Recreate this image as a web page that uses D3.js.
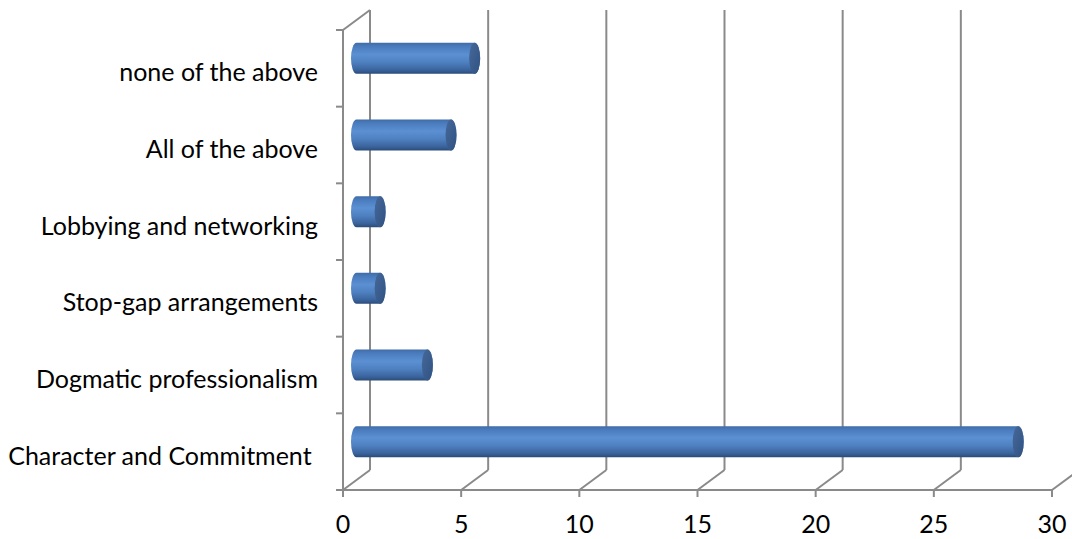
<!DOCTYPE html>
<html>
<head>
<meta charset="utf-8">
<script src="https://cdn.jsdelivr.net/npm/d3@7"></script>
<style>
  html, body { margin: 0; padding: 0; background: #fff; }
  svg { display: block; }
  text { font-family: Lato, "Open Sans", sans-serif; fill: #000; white-space: pre; }
</style>
</head>
<body>
<svg id="chart" width="1072" height="539"></svg>
<script>
// Categories, bottom to top
const categories = [
  "Character and Commitment ",
  "Dogmatic professionalism",
  "Stop-gap arrangements",
  "Lobbying and networking",
  "All of the above",
  "none of the above"
];
const values = [28, 3, 1, 1, 4, 5];
const tickValues = [0, 5, 10, 15, 20, 25, 30];

const svg = d3.select("#chart");

// Front plane scales plus the 3D depth offset of the back wall
const x = d3.scaleLinear().domain([0, 30]).range([343, 1052]);
const y = d3.scaleBand().domain(categories.slice().reverse()).range([30, 490]).padding(0);
const depth = { dx: 27, dy: -20 };
const gridColor = "#8a8a8a";

const defs = svg.append("defs");
const body = defs.append("linearGradient").attr("id", "cylBody")
  .attr("x1", 0).attr("y1", 0).attr("x2", 0).attr("y2", 1);
[["0%", "#3f6ca8"], ["12%", "#4a7cbd"], ["38%", "#5b90d3"], ["62%", "#4f81c1"], ["88%", "#3a639c"], ["100%", "#2b4b78"]]
  .forEach(([o, c]) => body.append("stop").attr("offset", o).attr("stop-color", c));
const cap = defs.append("linearGradient").attr("id", "cylCap")
  .attr("x1", 0).attr("y1", 0).attr("x2", 1).attr("y2", 1);
[["0%", "#46699a"], ["100%", "#2f5282"]]
  .forEach(([o, c]) => cap.append("stop").attr("offset", o).attr("stop-color", c));

const yTop = y.range()[0], yBot = y.range()[1];

// Back wall gridlines
svg.append("g").selectAll("line").data(tickValues).join("line")
  .attr("x1", d => x(d) + depth.dx).attr("x2", d => x(d) + depth.dx)
  .attr("y1", yTop + depth.dy).attr("y2", yBot + depth.dy)
  .attr("stroke", gridColor).attr("stroke-width", 2);

// Floor depth lines from each front tick to the back wall
svg.append("g").selectAll("line").data(tickValues).join("line")
  .attr("x1", d => x(d)).attr("y1", yBot)
  .attr("x2", d => x(d) + depth.dx).attr("y2", yBot + depth.dy)
  .attr("stroke", gridColor).attr("stroke-width", 2);

// Left wall: front edge and its top depth line
svg.append("line").attr("x1", x(0)).attr("x2", x(0)).attr("y1", yTop).attr("y2", yBot)
  .attr("stroke", gridColor).attr("stroke-width", 2);
svg.append("line").attr("x1", x(0)).attr("y1", yTop).attr("x2", x(0) + depth.dx).attr("y2", yTop + depth.dy)
  .attr("stroke", gridColor).attr("stroke-width", 2);

// Floor front edge
svg.append("line").attr("x1", x(0)).attr("x2", x(30)).attr("y1", yBot).attr("y2", yBot)
  .attr("stroke", gridColor).attr("stroke-width", 2);

// Category tick marks on the left wall
const bounds = categories.map(c => y(c)).concat([yBot]);
svg.append("g").selectAll("line").data(bounds).join("line")
  .attr("x1", x(0) - 7).attr("x2", x(0)).attr("y1", d => d).attr("y2", d => d)
  .attr("stroke", gridColor).attr("stroke-width", 2);

// Value tick marks under the floor
svg.append("g").selectAll("line").data(tickValues).join("line")
  .attr("x1", d => x(d)).attr("x2", d => x(d)).attr("y1", yBot).attr("y2", yBot + 7)
  .attr("stroke", gridColor).attr("stroke-width", 2);

// Cylinders, placed at half depth
const rx = 5.5, ry = 15.5;
const half = { dx: depth.dx / 2, dy: depth.dy / 2 };
const bars = svg.append("g").selectAll("g").data(categories.map((c, i) => ({ c, v: values[i] }))).join("g");
bars.append("path")
  .attr("d", d => {
    const cy = y(d.c) + y.bandwidth() / 2 + half.dy;
    const x0 = x(0) + half.dx, x1 = x(d.v) + half.dx;
    return `M${x0},${cy - ry}L${x1},${cy - ry}A${rx},${ry} 0 0 1 ${x1},${cy + ry}` +
           `L${x0},${cy + ry}A${rx},${ry} 0 0 1 ${x0},${cy - ry}Z`;
  })
  .attr("fill", "url(#cylBody)");
bars.append("ellipse")
  .attr("cx", d => x(d.v) + half.dx)
  .attr("cy", d => y(d.c) + y.bandwidth() / 2 + half.dy)
  .attr("rx", rx).attr("ry", ry)
  .attr("fill", "url(#cylCap)");

// Category labels
svg.append("g").selectAll("text").data(categories).join("text")
  .attr("x", 318).attr("y", d => y(d) + y.bandwidth() / 2 + 3)
  .attr("text-anchor", "end").attr("dominant-baseline", "central")
  .attr("font-size", 25)
  .text(d => d);

// Value axis labels
svg.append("g").selectAll("text").data(tickValues).join("text")
  .attr("x", d => x(d)).attr("y", 533)
  .attr("text-anchor", "middle")
  .attr("font-size", 25)
  .text(d => d);
</script>
</body>
</html>
